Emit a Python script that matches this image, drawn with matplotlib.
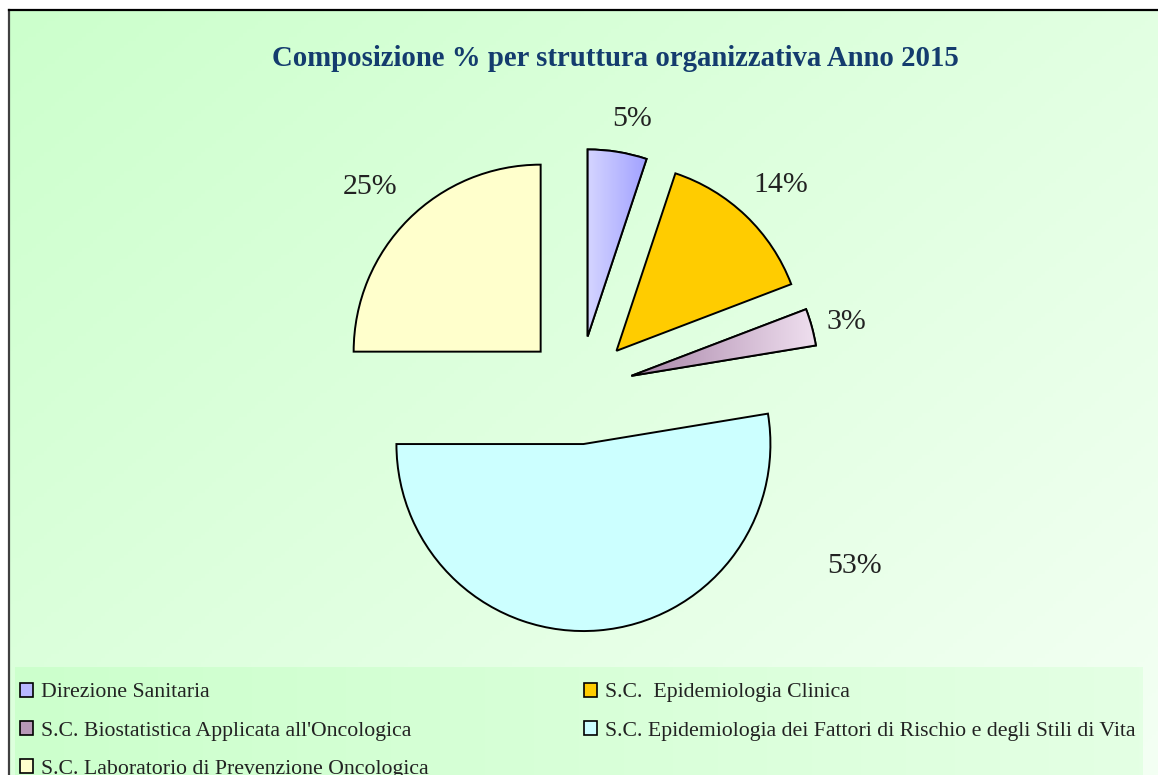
import matplotlib
matplotlib.use("Agg")
import matplotlib.pyplot as plt
import matplotlib.patches as patches
import matplotlib.colors as mcolors
import numpy as np

# data
categories = [
    "Direzione Sanitaria",
    "S.C.  Epidemiologia Clinica",
    "S.C. Biostatistica Applicata all'Oncologica",
    "S.C. Epidemiologia dei Fattori di Rischio e degli Stili di Vita",
    "S.C. Laboratorio di Prevenzione Oncologica",
]
shares = [5.1, 14.1, 3.2, 52.6, 25.0]
pct_labels = ["5%", "14%", "3%", "53%", "25%"]
title = "Composizione % per struttura organizzativa Anno 2015"

# styling
colors = ["#c4c4ff", "#ffcc00", "#c8a8c8", "#ccffff", "#ffffcc"]
explode = [0.29] * 5
label_dist = [1.185, 1.25, 1.186, 1.59, 1.267]
label_turn = [-2.5, -1.0, -1.0, 61.0, 1.0]

W, H = 1158, 775
fig = plt.figure(figsize=(W / 100, H / 100), dpi=100)
fig.patch.set_facecolor("white")
plt.rcParams["font.family"] = ["Liberation Serif", "DejaVu Serif"]


def px_axes(x0, y0, x1, y1, **kw):
    # axes from pixel box (top-left origin)
    return fig.add_axes([x0 / W, 1 - y1 / H, (x1 - x0) / W, (y1 - y0) / H], **kw)


# chart area background (diagonal gradient)
bg = px_axes(9, 10, W + 2, H + 2)
gy, gx = np.mgrid[0:1:200j, 0:1:300j]
t = 0.55 * gx + 0.45 * gy
c0 = np.array(mcolors.to_rgb("#ccffcc"))
c1 = np.array(mcolors.to_rgb("#f4fff4"))
bg.imshow(c0 + (c1 - c0) * t[..., None], extent=[0, 1, 0, 1], aspect="auto",
          origin="upper")
bg.set_xticks([])
bg.set_yticks([])
for s in ["right", "bottom"]:
    bg.spines[s].set_visible(False)
bg.spines["left"].set_color("#404040")
bg.spines["left"].set_linewidth(1.6)
bg.spines["top"].set_color("black")
bg.spines["top"].set_linewidth(1.6)

# legend band background
lg = px_axes(15, 667, 1143, H + 2)
lx = np.linspace(0, 1, 300)[None, :]
l0 = np.array(mcolors.to_rgb("#ccffcc"))
l1 = np.array(mcolors.to_rgb("#e4ffe4"))
lg.imshow(l0 + (l1 - l0) * lx[..., None], extent=[0, 1, 0, 1], aspect="auto")
lg.axis("off")

fig.text(615 / W, 1 - 58 / H, title, ha="center", va="center",
         fontsize=20.7, fontweight="bold", color="#143c6e")

# pie
cx, cy, R = 579, 390, 187
half = 300
ax = px_axes(cx - half, cy - half, cx + half, cy + half)
ax.patch.set_alpha(0)
wedges, _ = ax.pie(shares, colors=colors, explode=explode, startangle=90,
                   counterclock=False,
                   wedgeprops=dict(edgecolor="black", linewidth=1.4))
lim = half / R
ax.set_xlim(-lim, lim)
ax.set_ylim(-lim, lim)
ax.set_aspect("equal")
ax.axis("off")

# gradient fills for the two shaded slices
grad_specs = {0: ("#d4d4ff", "#a0a0ff"), 2: ("#a884a8", "#f0e0f0")}
for i, (ca, cb) in grad_specs.items():
    w = wedges[i]
    ga = np.array(mcolors.to_rgb(ca))
    gb = np.array(mcolors.to_rgb(cb))
    ramp = np.linspace(0, 1, 200)[None, :]
    img = ax.imshow(ga + (gb - ga) * ramp[..., None], extent=[-lim, lim, -lim, lim],
                    aspect="auto", zorder=w.get_zorder() + 0.1)
    if i == 0:
        xs = [w.center[0], w.center[0] + 0.32]
    else:
        xs = [w.center[0], w.center[0] + 1.0]
    img.set_extent([xs[0], xs[1], -lim, lim])
    img.set_clip_path(w)
    edge = patches.Wedge(w.center, w.r, w.theta1, w.theta2, facecolor="none",
                         edgecolor="black", linewidth=1.4,
                         zorder=w.get_zorder() + 0.2)
    ax.add_patch(edge)

for w, lab, d, turn in zip(wedges, pct_labels, label_dist, label_turn):
    a = np.deg2rad((w.theta1 + w.theta2) / 2 + turn)
    ax.text(w.center[0] + w.r * d * np.cos(a), w.center[1] + w.r * d * np.sin(a),
            lab, ha="center", va="center", fontsize=21.5, color="#222222")

ax.set_xlim(-lim, lim)
ax.set_ylim(-lim, lim)

# legend, laid out row by row in two columns
handles = [patches.Patch(facecolor=c, edgecolor="black", linewidth=1.2)
           for c in colors]
handles[0] = patches.Patch(facecolor="#b8b8ff", edgecolor="black", linewidth=1.2)
handles[2] = patches.Patch(facecolor="#b898b8", edgecolor="black", linewidth=1.2)
legend_kw = dict(loc="upper left", frameon=False, fontsize=15.7,
                 handlelength=0.58, handleheight=0.58, handletextpad=0.38,
                 labelspacing=0.86, borderpad=0, borderaxespad=0)
col1 = [0, 2, 4]
col2 = [1, 3]
leg1 = fig.legend([handles[i] for i in col1], [categories[i] for i in col1],
                  bbox_to_anchor=(20 / W, 1 - 683 / H), **legend_kw)
leg2 = fig.legend([handles[i] for i in col2], [categories[i] for i in col2],
                  bbox_to_anchor=(584 / W, 1 - 683 / H), **legend_kw)
for leg in (leg1, leg2):
    for txt in leg.get_texts():
        txt.set_color("#222222")

fig.savefig("out.png", dpi=100)
